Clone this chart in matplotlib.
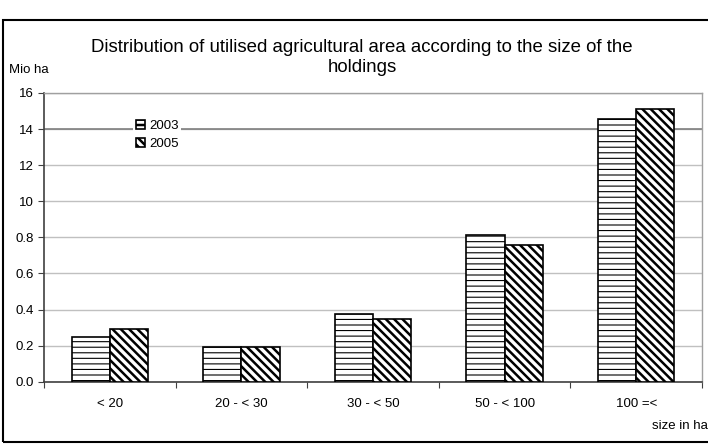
import matplotlib
matplotlib.use("Agg")
import matplotlib.pyplot as plt
from matplotlib.patches import Rectangle
import numpy as np

plt.rcParams['font.family'] = ['Liberation Sans', 'DejaVu Sans']

# data (Mio ha)
categories = ['< 20', '20 - < 30', '30 - < 50', '50 - < 100', '100 =<']
area_2003 = [0.25, 0.19, 0.375, 0.81, 1.455]
area_2005 = [0.29, 0.19, 0.35, 0.76, 1.51]
y_ticks = [0.0, 0.2, 0.4, 0.6, 0.8, 1.0, 1.2, 1.4, 1.6]
y_tick_labels = ['0.0', '0.2', '0.4', '0.6', '0.8', '10', '12', '14', '16']

fig = plt.figure(figsize=(7.08, 4.46), dpi=100)
ax = fig.add_axes([44 / 708, 64.3 / 446, 658 / 708, 288.8 / 446])

x = np.arange(len(categories))
w = 0.29
back = chr(92)

plt.rcParams['hatch.linewidth'] = 0.8
b1 = ax.bar(x - w / 2, area_2003, w, color='white', edgecolor='black',
            linewidth=1.2, hatch='---', label='2003', zorder=3)
plt.rcParams['hatch.linewidth'] = 1.8
b2 = ax.bar(x + w / 2, area_2005, w, color='white', edgecolor='black',
            linewidth=1.2, hatch=back * 4, label='2005', zorder=3)

ax.set_xlim(-0.5, len(categories) - 0.5)
ax.set_ylim(0, 1.6)
ax.set_yticks(y_ticks)
ax.set_yticklabels(y_tick_labels, fontsize=9.5)
ax.yaxis.grid(True, color='#c0c0c0', linewidth=1.0, zorder=0)
ax.axhline(1.4, color='#808080', linewidth=1.2, zorder=1)
ax.set_axisbelow(True)

ax.set_xticks(np.arange(len(categories) + 1) - 0.5)
ax.set_xticklabels([])
ax.set_xticks(x, minor=True)
ax.set_xticklabels(categories, minor=True, fontsize=9.5)
ax.tick_params(axis='x', which='minor', length=0, pad=12)
ax.tick_params(axis='x', which='major', length=4, color='#404040')
ax.tick_params(axis='y', length=4, color='#404040', pad=3)

for s in ['left', 'bottom']:
    ax.spines[s].set_color('#404040')
    ax.spines[s].set_linewidth(1.2)
for s in ['top', 'right']:
    ax.spines[s].set_color('#a0a0a0')
    ax.spines[s].set_linewidth(1.0)

leg = ax.legend(loc='upper left', bbox_to_anchor=(133 / 708, 1 - 117 / 446),
                bbox_transform=fig.transFigure, frameon=True, fontsize=9.5,
                handlelength=0.7, handleheight=0.7, handletextpad=0.3,
                labelspacing=0.45, borderpad=0.2, borderaxespad=0)
leg.get_frame().set_facecolor('white')
leg.get_frame().set_edgecolor('none')
leg.get_frame().set_alpha(1)
leg.set_zorder(5)

fig.text(362 / 708, 1 - 47 / 446, 'Distribution of utilised agricultural area according to the size of the',
         ha='center', va='center', fontsize=13.4)
fig.text(362 / 708, 1 - 68 / 446, 'holdings', ha='center', va='center', fontsize=13.4)
fig.text(9 / 708, 1 - 70 / 446, 'Mio ha', ha='left', va='center', fontsize=9.5)
fig.text(708 / 708, 1 - 426 / 446, 'size in ha', ha='right', va='center', fontsize=9.5)

fig.patches.append(Rectangle((3 / 708, 1 - 442 / 446), 720 / 708, 422 / 446,
                             transform=fig.transFigure, fill=False,
                             edgecolor='black', linewidth=1.5))

fig.savefig('out.png', dpi=100)
